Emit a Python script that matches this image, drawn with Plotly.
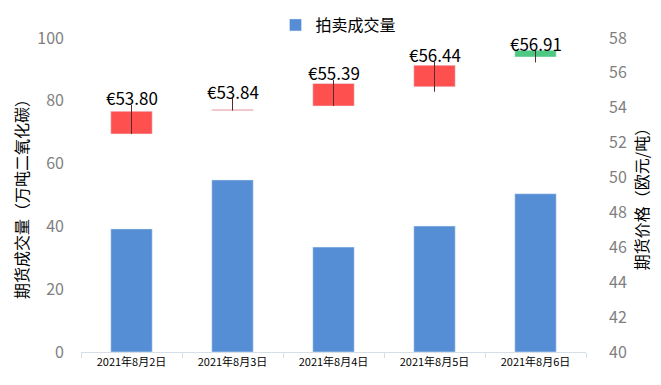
import plotly.graph_objects as go

dates = ["2021年8月2日", "2021年8月3日", "2021年8月4日", "2021年8月5日", "2021年8月6日"]
volume = [39.2, 54.8, 33.4, 40.1, 50.4]
open_ = [52.5, 53.84, 54.1, 55.2, 57.3]
close = [53.80, 53.84, 55.39, 56.44, 56.91]
high = [54.16, 54.56, 55.6, 56.64, 57.3]
low = [52.5, 53.84, 54.1, 54.92, 56.6]
labels = ["€53.80", "€53.84", "€55.39", "€56.44", "€56.91"]

FONT = "Noto Sans CJK SC"
fig = go.Figure()

fig.add_trace(go.Bar(x=dates, y=volume, name="拍卖成交量", marker_color="#558ED5",
                     width=0.41, yaxis="y"))

# candle bodies
base = [min(o, c) for o, c in zip(open_, close)]
height = [max(abs(c - o), 0.06) for o, c in zip(open_, close)]
colors = ["#FF5050" if c >= o else "#4DC983" for o, c in zip(open_, close)]
fig.add_trace(go.Bar(x=dates, y=height, base=base, marker_color=colors, width=0.41,
                     yaxis="y2", showlegend=False, hoverinfo="skip"))

# wicks
wx, wy = [], []
for d, h, l in zip(dates, high, low):
    wx += [d, d, None]
    wy += [l, h, None]
fig.add_trace(go.Scatter(x=wx, y=wy, mode="lines", line=dict(color="#5a2a2a", width=1),
                         yaxis="y2", showlegend=False, hoverinfo="skip"))

for d, h, t in zip(dates, high, labels):
    fig.add_annotation(x=d, y=h, yref="y2", text=t, showarrow=False, yanchor="middle",
                       yshift=7, font=dict(family=FONT, size=17, color="#000000"))

fig.update_layout(
    width=661, height=385,
    margin=dict(l=73, r=83, t=30, b=41, autoexpand=False),
    plot_bgcolor="white", paper_bgcolor="white",
    barmode="overlay",
    font=dict(family=FONT),
    showlegend=True,
    legend=dict(orientation="h", x=0.5, xanchor="center", y=1.0, yanchor="top",
                yref="container", xref="container", bgcolor="rgba(0,0,0,0)",
                font=dict(size=16, color="#000000"), itemwidth=30),
    xaxis=dict(type="category", showline=True, linecolor="#D6DEE8", ticks="outside",
               tickson="boundaries", ticklen=5, tickcolor="#D6DEE8", automargin=False,
               tickfont=dict(size=11, color="#000000"), showgrid=False),
    yaxis=dict(range=[0, 100], dtick=20, showgrid=False, zeroline=False, automargin=False,
               tickfont=dict(size=16, color="#7F7F7F"), ticklabelstandoff=16,
               title=dict(text="期货成交量（万吨二氧化碳）", font=dict(size=16, color="#000000"),
                          standoff=4)),
    yaxis2=dict(range=[40, 58], dtick=2, overlaying="y", side="right", showgrid=False,
                zeroline=False, automargin=False, tickfont=dict(size=16, color="#7F7F7F"),
                ticklabelstandoff=22,
                title=dict(text="期货价格（欧元/吨）", font=dict(size=16, color="#000000"),
                           standoff=10)),
)

fig.write_html("out.html")
